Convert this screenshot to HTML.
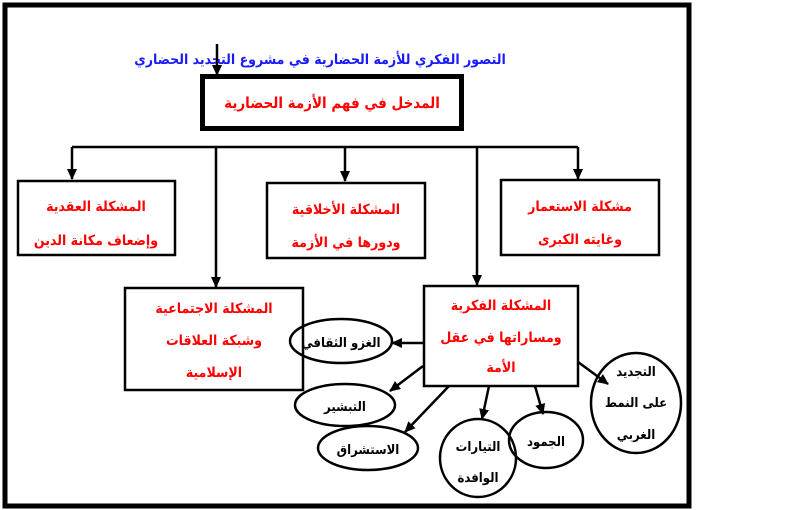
<!DOCTYPE html>
<html><head><meta charset="utf-8"><style>
html,body{margin:0;padding:0;background:#fff;}
svg{display:block;}
text{font-family:"DejaVu Sans Condensed","DejaVu Sans",sans-serif;font-weight:bold;text-anchor:middle;direction:rtl;}
.r{fill:#f00;font-size:14px;}
.k{fill:#000;font-size:13px;}
</style></head><body>
<svg width="800" height="510" viewBox="0 0 800 510" xmlns="http://www.w3.org/2000/svg">
<defs><marker id="a" markerWidth="11" markerHeight="10" refX="10" refY="5" orient="auto" markerUnits="userSpaceOnUse"><path d="M0,0 L11,5 L0,10 Z" fill="#000"/></marker></defs>
<rect x="5" y="5" width="684" height="501" fill="none" stroke="#000" stroke-width="5"/>
<text x="320" y="64" style="fill:#1a1aff;font-size:14px">التصور الفكري للأزمة الحضارية في مشروع التجديد الحضاري</text>
<line x1="217" y1="44" x2="217" y2="75" stroke="#000" stroke-width="2.5" marker-end="url(#a)"/>
<rect x="202.5" y="76.5" width="259" height="52" fill="none" stroke="#000" stroke-width="5"/>
<text class="r" x="332" y="108" style="font-size:15px">المدخل في فهم الأزمة الحضارية</text>
<g stroke="#000" stroke-width="2.5" fill="none">
<line x1="72" y1="147" x2="578" y2="147"/>
<line x1="72" y1="147" x2="72" y2="179" marker-end="url(#a)"/>
<line x1="345" y1="147" x2="345" y2="181" marker-end="url(#a)"/>
<line x1="578" y1="147" x2="578" y2="179" marker-end="url(#a)"/>
<line x1="216" y1="147" x2="216" y2="287" marker-end="url(#a)"/>
<line x1="477" y1="147" x2="477" y2="285" marker-end="url(#a)"/>
<rect x="18" y="181" width="157" height="74"/>
<rect x="267" y="183" width="158" height="75"/>
<rect x="501" y="180" width="158" height="75"/>
<rect x="125" y="288" width="178" height="102"/>
<rect x="424" y="286" width="154" height="100"/>
<line x1="423" y1="343" x2="392" y2="343" marker-end="url(#a)"/>
<line x1="423" y1="366" x2="390" y2="391" marker-end="url(#a)"/>
<line x1="449" y1="386" x2="405" y2="432" marker-end="url(#a)"/>
<line x1="489" y1="386" x2="482" y2="419" marker-end="url(#a)"/>
<line x1="535" y1="386" x2="543" y2="414" marker-end="url(#a)"/>
<line x1="578" y1="362" x2="608" y2="384" marker-end="url(#a)"/>
<ellipse cx="341" cy="341" rx="51" ry="22"/>
<ellipse cx="345" cy="405" rx="50" ry="21"/>
<ellipse cx="368" cy="448" rx="50" ry="22"/>
<ellipse cx="478" cy="458" rx="38" ry="39"/>
<ellipse cx="546" cy="440" rx="37" ry="28"/>
<ellipse cx="636" cy="403" rx="45" ry="50"/>
</g>
<text class="r" x="96" y="211">المشكلة العقدية</text>
<text class="r" x="96" y="245">وإضعاف مكانة الدين</text>
<text class="r" x="346" y="214">المشكلة الأخلاقية</text>
<text class="r" x="346" y="247">ودورها في الأزمة</text>
<text class="r" x="580" y="211">مشكلة الاستعمار</text>
<text class="r" x="580" y="244">وغايته الكبرى</text>
<text class="r" x="214" y="313">المشكلة الاجتماعية</text>
<text class="r" x="214" y="345">وشبكة العلاقات</text>
<text class="r" x="214" y="377">الإسلامية</text>
<text class="r" x="501" y="310">المشكلة الفكرية</text>
<text class="r" x="501" y="342">ومساراتها في عقل</text>
<text class="r" x="501" y="372">الأمة</text>
<text class="k" x="341" y="347">الغزو الثقافي</text>
<text class="k" x="345" y="411">التبشير</text>
<text class="k" x="368" y="454">الاستشراق</text>
<text class="k" x="478" y="451">التيارات</text>
<text class="k" x="478" y="482">الوافدة</text>
<text class="k" x="546" y="446">الجمود</text>
<text class="k" x="636" y="376">التجديد</text>
<text class="k" x="636" y="407">على النمط</text>
<text class="k" x="636" y="439">الغربي</text>
</svg>
</body></html>
